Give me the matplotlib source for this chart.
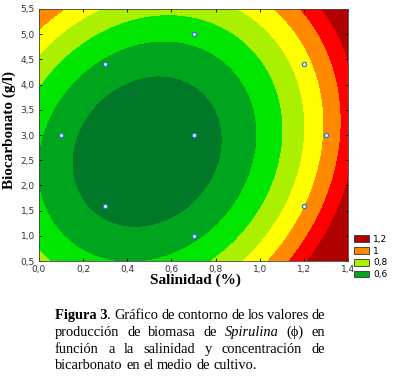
import numpy as np
import matplotlib
matplotlib.use("Agg")
import matplotlib.pyplot as plt
from matplotlib.patches import Patch

# design points: salinidad (%) / bicarbonato (g/l)
sal_pts = [0.1, 0.3, 0.3, 0.7, 0.7, 0.7, 1.2, 1.2, 1.3]
bic_pts = [3.0, 4.4, 1.6, 5.0, 3.0, 1.0, 4.4, 1.6, 3.0]

# quadratic response surface, coefficients
surf_center = [0.49, 2.67]
surf_min = 0.412
surf_coef = [0.78, 0.04, -0.055]   # (x-xc)^2, (y-yc)^2, (x-xc)(y-yc)

levels = [0.0, 0.5, 0.6, 0.7, 0.8, 0.9, 1.0, 1.1, 3.0]
band_colors = ["#007828", "#00a51e", "#00e600", "#aaf000",
               "#ffff00", "#ff8a00", "#ff0000", "#b00000"]

legend_labels = ["1,2", "1", "0,8", "0,6"]
legend_colors = ["#b00000", "#ff8a00", "#aaf000", "#00a51e"]

x_ticks = [0.0, 0.2, 0.4, 0.6, 0.8, 1.0, 1.2, 1.4]
y_ticks = [0.5, 1.0, 1.5, 2.0, 2.5, 3.0, 3.5, 4.0, 4.5, 5.0, 5.5]

N, B, I = "normal", "bold", "italic"
caption = [
    [[("Figura 3", B, N), (".", N, N)], [("Gráfico", N, N)], [("de", N, N)], [("contorno", N, N)],
     [("de", N, N)], [("los", N, N)], [("valores", N, N)], [("de", N, N)]],
    [[("producción", N, N)], [("de", N, N)], [("biomasa", N, N)], [("de", N, N)],
     [("Spirulina", N, I)], [("(ϕ)", N, N)], [("en", N, N)]],
    [[("función", N, N)], [("a", N, N)], [("la", N, N)], [("salinidad", N, N)], [("y", N, N)],
     [("concentración", N, N)], [("de", N, N)]],
    [[("bicarbonato", N, N)], [("en", N, N)], [("el", N, N)], [("medio", N, N)], [("de", N, N)],
     [("cultivo.", N, N)]],
]

W, H = 394, 377
fig = plt.figure(figsize=(W / 100, H / 100), dpi=100)
ax = fig.add_axes([39 / W, 1 - 261 / H, 309 / W, 252 / H])

xs = np.linspace(0, 1.4, 400)
ys = np.linspace(0.5, 5.5, 400)
X, Y = np.meshgrid(xs, ys)
dx = X - surf_center[0]
dy = Y - surf_center[1]
Z = surf_min + surf_coef[0] * dx ** 2 + surf_coef[1] * dy ** 2 + surf_coef[2] * dx * dy

ax.contourf(X, Y, Z, levels=levels, colors=band_colors)
ax.plot(sal_pts, bic_pts, "o", ms=3, mfc="white", mec="#2a78c8", mew=0.9, ls="none")

ax.set_xlim(0, 1.4)
ax.set_ylim(0.5, 5.5)
ax.set_xticks(x_ticks)
ax.set_yticks(y_ticks)
ax.set_xticklabels([("%.1f" % v).replace(".", ",") for v in x_ticks])
ax.set_yticklabels([("%.1f" % v).replace(".", ",") for v in y_ticks])
ax.tick_params(direction="in", top=True, right=True, length=2, width=0.6,
               labelsize=6.5, labelcolor="#333333", pad=3)
for s in ax.spines.values():
    s.set_linewidth(0.6)
    s.set_color("#444444")

fig.text(195 / W, 1 - 280 / H, "Salinidad (%)", family="Liberation Serif", weight="bold",
         fontsize=11, ha="center", va="center")
fig.text(9 / W, 1 - 130 / H, "Biocarbonato (g/l)", family="Liberation Serif", weight="bold",
         fontsize=11, ha="center", va="center", rotation=90)

handles = [Patch(facecolor=c, edgecolor="#333333", linewidth=0.6) for c in legend_colors]
fig.legend(handles, legend_labels, loc="upper left", bbox_to_anchor=(354 / W, 1 - 235 / H),
           frameon=False, fontsize=6.5, handlelength=1.7, handleheight=0.8,
           labelspacing=0.3, handletextpad=0.4, borderaxespad=0, borderpad=0)

# justified caption
renderer = fig.canvas.get_renderer()
left, right = 55, 325
fs = 10.4
base = 319
step = 16.8
space = 0.25 * fs * 100 / 72


def piece_width(txt, weight, style):
    t = fig.text(0, 0, txt, family="Liberation Serif", weight=weight, style=style, fontsize=fs)
    w = t.get_window_extent(renderer).width
    t.remove()
    return w


for i, line in enumerate(caption):
    widths = [[piece_width(*p) for p in word] for word in line]
    total = sum(sum(w) for w in widths)
    last = i == len(caption) - 1
    gap = space if last else (right - left - total) / (len(line) - 1)
    x = left
    yb = 1 - (base + i * step) / H
    for word, ws in zip(line, widths):
        for (txt, weight, style), w in zip(word, ws):
            fig.text(x / W, yb, txt, family="Liberation Serif", weight=weight, style=style,
                     fontsize=fs, va="baseline", ha="left")
            x += w
        x += gap

fig.savefig("out.png", dpi=100)
